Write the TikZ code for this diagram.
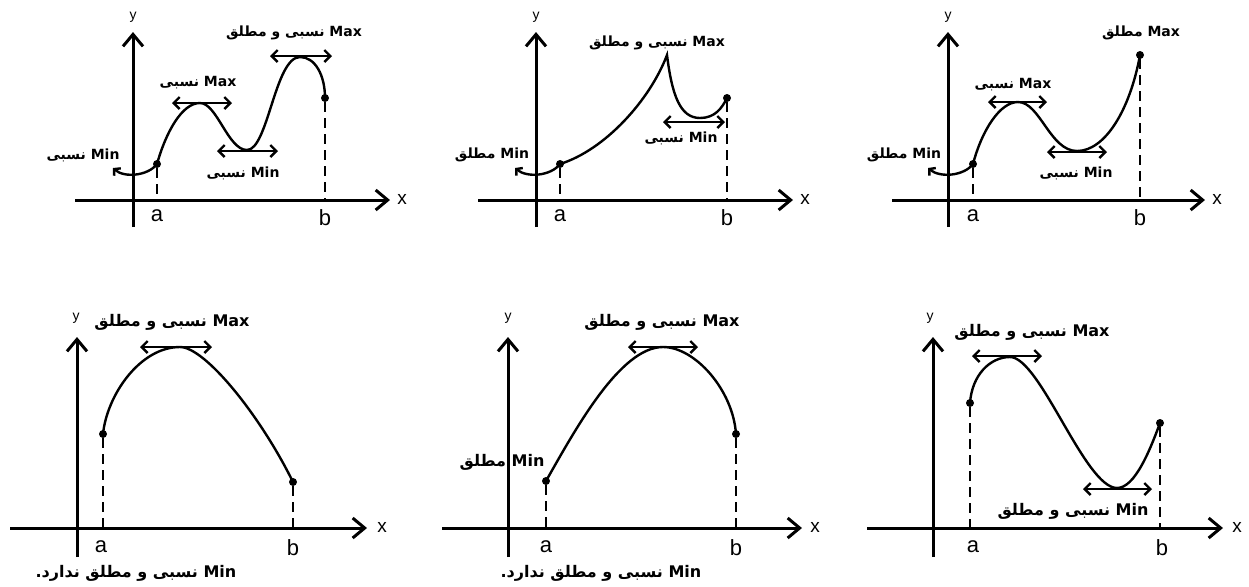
\documentclass[tikz,border=0pt]{standalone}
\usepackage{fontspec}
\setmainfont{Liberation Sans}
\newfontfamily\arabicfont[Script=Arabic]{DejaVu Sans}
\TeXXeTstate=1
\usetikzlibrary{arrows.meta}

\newcommand{\rtl}[1]{\beginR #1\endR}

\begin{document}
\begin{tikzpicture}[x=0.5pt, y=-0.5pt,
    ax/.style={line width=1.5pt, -{Straight Barb[length=6pt,width=10pt]}},
    crv/.style={line width=1.2pt},
    hook/.style={line width=1.2pt, -{Straight Barb[length=2.2pt,width=5pt]}},
    drop/.style={line width=1.3pt, dash pattern=on 5pt off 3pt},
    tng/.style={line width=1.2pt, {Straight Barb[length=3pt,width=6pt]}-{Straight Barb[length=3pt,width=6pt]}},
    pt/.style={circle, fill, inner sep=0, minimum size=4pt},
    lbl/.style={font=\arabicfont\bfseries\fontsize{7}{8}\selectfont, inner sep=0},
    lbb/.style={font=\arabicfont\bfseries\fontsize{8}{9}\selectfont, inner sep=0},
    ab/.style={font=\fontsize{11}{12}\selectfont, inner sep=0},
    axl/.style={font=\fontsize{9.5}{10}\selectfont, inner sep=0},
    ayl/.style={font=\fontsize{7}{8}\selectfont, inner sep=0}]
\useasboundingbox (0,0) rectangle (1249,586);

% panel 1
\coordinate (x1s) at (75,200);  \coordinate (x1e) at (390,200);
\coordinate (y1s) at (133,227); \coordinate (y1e) at (133,32);
\draw[ax] (x1s) -- (x1e);
\draw[ax] (y1s) -- (y1e);
\node[axl] (x1) at (402,199) {x};
\node[ayl] (y1) at (133,17) {y};
\node[pt] (a1) at (157,164) {};
\node[pt] (b1) at (325,98) {};
\draw[drop] (a1) -- (a1 |- x1s);
\draw[drop] (b1) -- (b1 |- x1s);
\node[ab] (la1) at (157,216) {a};
\node[ab] (lb1) at (325,218) {b};
\draw[hook] (a1.center) .. controls (148,176) and (124,178) .. (113,168);
\draw[crv] (a1.center) .. controls (166,132) and (182,103) .. (200,103)
    .. controls (217,103) and (228,150) .. (247,150)
    .. controls (268,150) and (275,57) .. (300,57)
    .. controls (315,57) and (325,75) .. (b1.center);
\coordinate (t1a) at (172,103); \coordinate (t1b) at (232,103);
\coordinate (t1c) at (217,151); \coordinate (t1d) at (278,151);
\coordinate (t1e) at (270,56);  \coordinate (t1f) at (332,56);
\draw[tng] (t1a) -- (t1b);
\draw[tng] (t1c) -- (t1d);
\draw[tng] (t1e) -- (t1f);
\node[lbl] (n1a) at (198,83) {\rtl{Max نسبی}};
\node[lbl] (n1b) at (243,173) {\rtl{Min نسبی}};
\node[lbl] (n1c) at (294,33) {\rtl{Max نسبی و مطلق}};
\node[lbl] (n1d) at (83,155) {\rtl{Min نسبی}};

% panel 2
\coordinate (x2s) at (478,200); \coordinate (x2e) at (793,200);
\coordinate (y2s) at (536,227); \coordinate (y2e) at (536,32);
\draw[ax] (x2s) -- (x2e);
\draw[ax] (y2s) -- (y2e);
\node[axl] (x2) at (805,199) {x};
\node[ayl] (y2) at (536,17) {y};
\node[pt] (a2) at (560,164) {};
\node[pt] (b2) at (727,98) {};
\draw[drop] (a2) -- (a2 |- x2s);
\draw[drop] (b2) -- (b2 |- x2s);
\node[ab] (la2) at (560,216) {a};
\node[ab] (lb2) at (727,218) {b};
\draw[hook] (a2.center) .. controls (551,176) and (527,178) .. (515,168);
\draw[crv] (a2.center) .. controls (605,150) and (650,100) .. (667,55)
    .. controls (672,95) and (680,118) .. (700,118)
    .. controls (715,118) and (722,108) .. (b2.center);
\coordinate (t2a) at (663,122); \coordinate (t2b) at (725,122);
\draw[tng] (t2a) -- (t2b);
\node[lbl] (n2a) at (681,138) {\rtl{Min نسبی}};
\node[lbl] (n2b) at (657,43) {\rtl{Max نسبی و مطلق}};
\node[lbl] (n2c) at (492,155) {\rtl{Min مطلق}};

% panel 3
\coordinate (x3s) at (892,200); \coordinate (x3e) at (1205,200);
\coordinate (y3s) at (948,227); \coordinate (y3e) at (948,32);
\draw[ax] (x3s) -- (x3e);
\draw[ax] (y3s) -- (y3e);
\node[axl] (x3) at (1217,199) {x};
\node[ayl] (y3) at (948,17) {y};
\node[pt] (a3) at (973,164) {};
\node[pt] (b3) at (1140,55) {};
\draw[drop] (a3) -- (a3 |- x3s);
\draw[drop] (b3) -- (b3 |- x3s);
\node[ab] (la3) at (973,216) {a};
\node[ab] (lb3) at (1140,218) {b};
\draw[hook] (a3.center) .. controls (964,176) and (940,178) .. (928,168);
\draw[crv] (a3.center) .. controls (982,130) and (1000,102) .. (1018,102)
    .. controls (1040,102) and (1050,151) .. (1077,151)
    .. controls (1105,151) and (1130,110) .. (b3.center);
\coordinate (t3a) at (988,102);  \coordinate (t3b) at (1047,102);
\coordinate (t3c) at (1047,152); \coordinate (t3d) at (1107,152);
\draw[tng] (t3a) -- (t3b);
\draw[tng] (t3c) -- (t3d);
\node[lbl] (n3a) at (1013,85) {\rtl{Max نسبی}};
\node[lbl] (n3b) at (1076,173) {\rtl{Min نسبی}};
\node[lbl] (n3c) at (1141,33) {\rtl{Max مطلق}};
\node[lbl] (n3d) at (904,155) {\rtl{Min مطلق}};

% panel 4
\coordinate (x4s) at (10,528);  \coordinate (x4e) at (367,528);
\coordinate (y4s) at (77,557);  \coordinate (y4e) at (77,337);
\draw[ax] (x4s) -- (x4e);
\draw[ax] (y4s) -- (y4e);
\node[axl] (x4) at (382,527) {x};
\node[ayl] (y4) at (76,318) {y};
\node[pt] (a4) at (103,434) {};
\node[pt] (b4) at (293,482) {};
\draw[drop] (a4) -- (a4 |- x4s);
\draw[drop] (b4) -- (b4 |- x4s);
\node[ab] (la4) at (101,547) {a};
\node[ab] (lb4) at (293,548) {b};
\draw[crv] (a4.center) .. controls (107,395) and (140,347) .. (180,347)
    .. controls (205,347) and (260,415) .. (b4.center);
\coordinate (t4a) at (140,347); \coordinate (t4b) at (212,347);
\draw[tng] (t4a) -- (t4b);
\node[lbb] (n4a) at (172,322) {\rtl{Max نسبی و مطلق}};
\node[lbb] (n4b) at (136,573) {\rtl{Min نسبی و مطلق ندارد.}};

% panel 5
\coordinate (x5s) at (442,528); \coordinate (x5e) at (802,528);
\coordinate (y5s) at (508,557); \coordinate (y5e) at (508,337);
\draw[ax] (x5s) -- (x5e);
\draw[ax] (y5s) -- (y5e);
\node[axl] (x5) at (815,527) {x};
\node[ayl] (y5) at (508,318) {y};
\node[pt] (a5) at (546,481) {};
\node[pt] (b5) at (736,434) {};
\draw[drop] (a5) -- (a5 |- x5s);
\draw[drop] (b5) -- (b5 |- x5s);
\node[ab] (la5) at (546,547) {a};
\node[ab] (lb5) at (736,548) {b};
\draw[crv] (a5.center) .. controls (575,430) and (620,347) .. (663,347)
    .. controls (695,347) and (733,390) .. (b5.center);
\coordinate (t5a) at (628,347); \coordinate (t5b) at (698,347);
\draw[tng] (t5a) -- (t5b);
\node[lbb] (n5a) at (662,322) {\rtl{Max نسبی و مطلق}};
\node[lbb] (n5b) at (502,462) {\rtl{Min مطلق}};
\node[lbb] (n5c) at (601,573) {\rtl{Min نسبی و مطلق ندارد.}};

% panel 6
\coordinate (x6s) at (867,528); \coordinate (x6e) at (1223,528);
\coordinate (y6s) at (933,557); \coordinate (y6e) at (933,337);
\draw[ax] (x6s) -- (x6e);
\draw[ax] (y6s) -- (y6e);
\node[axl] (x6) at (1237,527) {x};
\node[ayl] (y6) at (930,318) {y};
\node[pt] (a6) at (970,403) {};
\node[pt] (b6) at (1160,423) {};
\draw[drop] (a6) -- (a6 |- x6s);
\draw[drop] (b6) -- (b6 |- x6s);
\node[ab] (la6) at (973,547) {a};
\node[ab] (lb6) at (1162,548) {b};
\draw[crv] (a6.center) .. controls (972,375) and (990,357) .. (1010,357)
    .. controls (1040,357) and (1085,488) .. (1117,488)
    .. controls (1135,488) and (1150,450) .. (b6.center);
\coordinate (t6a) at (972,356);  \coordinate (t6b) at (1042,356);
\coordinate (t6c) at (1083,489); \coordinate (t6d) at (1152,489);
\draw[tng] (t6a) -- (t6b);
\draw[tng] (t6c) -- (t6d);
\node[lbb] (n6a) at (1032,332) {\rtl{Max نسبی و مطلق}};
\node[lbb] (n6b) at (1073,511) {\rtl{Min نسبی و مطلق}};
\end{tikzpicture}
\end{document}
